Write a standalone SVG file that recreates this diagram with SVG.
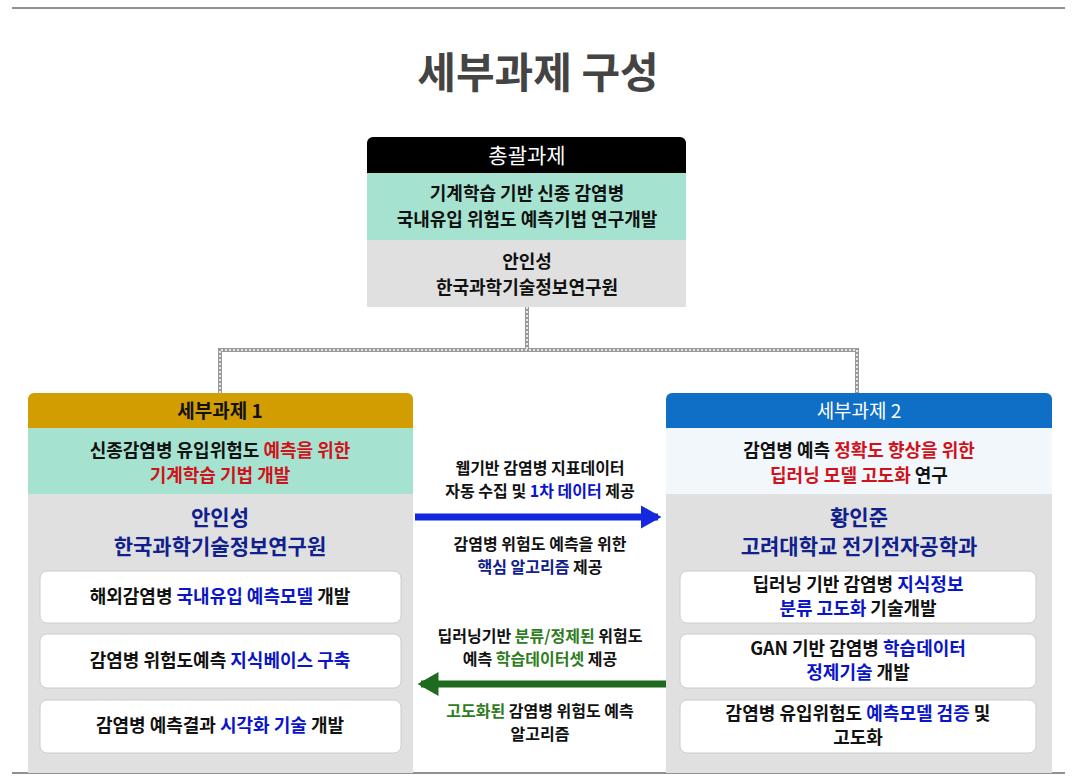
<svg xmlns="http://www.w3.org/2000/svg" width="1077" height="778" viewBox="0 0 1077 778">
<style>
text{font-family:"Noto Sans CJK KR","Noto Sans",sans-serif;font-weight:bold;text-anchor:middle;fill:#111}
.s{font-size:18px}.m{font-size:21px}.h{font-size:19px;fill:#111}.l{font-size:16px}
.r{fill:#d0121b}.b{fill:#0a14c8}.n{fill:#10208c}.g{fill:#2e7d22}
.wb{fill:#fff;stroke:#ccc;stroke-width:1}
</style>
<defs>
<marker id="ab" markerWidth="3" markerHeight="3.4" refX="2.5" refY="1.7" orient="auto"><path d="M0,0L3,1.7L0,3.4Z" fill="#1428e0"/></marker>
<marker id="ag" markerWidth="3" markerHeight="3.4" refX="2.5" refY="1.7" orient="auto"><path d="M0,0L3,1.7L0,3.4Z" fill="#1e6a1e"/></marker>
</defs>
<rect width="1077" height="778" fill="#fff"/>
<line x1="12" y1="8" x2="1065" y2="8" stroke="#222"/>
<line x1="12" y1="773" x2="1065" y2="773" stroke="#222"/>
<text x="538" y="88" style="font-size:42px;fill:#444">세부과제 구성</text>
<g id="connectors" fill="none">
<path d="M527,307V350M220,393V350H857V393" stroke="#999" stroke-width="4"/>
<path d="M527,307V350M220,393V350H857V393" stroke="#fff" stroke-width="1.5" stroke-dasharray="2 2"/>
<line x1="415" y1="517" x2="658" y2="517" stroke="#1428e0" stroke-width="7" marker-end="url(#ab)"/>
<line x1="666" y1="684" x2="421" y2="684" stroke="#1e6a1e" stroke-width="7" marker-end="url(#ag)"/>
</g>
<g id="top">
<path d="M367,173V143a6,6 0 0 1 6,-6H680a6,6 0 0 1 6,6V173Z" fill="#000"/>
<rect x="367" y="173" width="319" height="67" fill="#a5e3d0"/>
<rect x="367" y="240" width="319" height="67" fill="#e0e0e0"/>
<text x="527" y="163" class="m" style="fill:#fff;font-weight:normal">총괄과제</text>
<text x="527" y="200" class="s">기계학습 기반 신종 감염병</text>
<text x="527" y="226" class="s">국내유입 위험도 예측기법 연구개발</text>
<text x="527" y="268" class="s">안인성</text>
<text x="527" y="294" class="s">한국과학기술정보연구원</text>
</g>
<g id="task1">
<path d="M28,428V399a6,6 0 0 1 6,-6H407a6,6 0 0 1 6,6V428Z" fill="#d19d00"/>
<rect x="28" y="428" width="385" height="66" fill="#a5e3d0"/>
<rect x="28" y="494" width="385" height="279" fill="#e0e0e0"/>
<text x="220" y="418" class="h">세부과제 1</text>
<text x="220" y="457" class="s">신종감염병 유입위험도 <tspan class="r">예측을 위한</tspan></text>
<text x="220" y="482" class="s r">기계학습 기법 개발</text>
<text x="220" y="525" class="m n">안인성</text>
<text x="220" y="554" class="m n">한국과학기술정보연구원</text>
<rect x="40" y="571" width="361" height="52" rx="7" class="wb"/>
<text x="220" y="603" class="s">해외감염병 <tspan class="b">국내유입 예측모델</tspan> 개발</text>
<rect x="40" y="634" width="361" height="54" rx="7" class="wb"/>
<text x="220" y="667" class="s">감염병 위험도예측 <tspan class="b">지식베이스 구축</tspan></text>
<rect x="40" y="700" width="361" height="53" rx="7" class="wb"/>
<text x="220" y="732" class="s">감염병 예측결과 <tspan class="b">시각화 기술</tspan> 개발</text>
</g>
<g id="task2">
<path d="M666,428V399a6,6 0 0 1 6,-6H1046a6,6 0 0 1 6,6V428Z" fill="#0f6fc6"/>
<rect x="666" y="428" width="386" height="66" fill="#f2f7fc"/>
<rect x="666" y="494" width="386" height="279" fill="#e0e0e0"/>
<text x="859" y="418" class="h" style="fill:#fff;font-weight:normal">세부과제 2</text>
<text x="859" y="457" class="s">감염병 예측 <tspan class="r">정확도 향상을 위한</tspan></text>
<text x="859" y="482" class="s"><tspan class="r">딥러닝 모델 고도화</tspan> 연구</text>
<text x="859" y="525" class="m n">황인준</text>
<text x="859" y="554" class="m n">고려대학교 전기전자공학과</text>
<rect x="680" y="571" width="356" height="52" rx="7" class="wb"/>
<text x="858" y="591" class="s">딥러닝 기반 감염병 <tspan class="b">지식정보</tspan></text>
<text x="858" y="615" class="s"><tspan class="b">분류 고도화</tspan> 기술개발</text>
<rect x="680" y="634" width="356" height="54" rx="7" class="wb"/>
<text x="858" y="655" class="s">GAN 기반 감염병 <tspan class="b">학습데이터</tspan></text>
<text x="858" y="679" class="s"><tspan class="b">정제기술</tspan> 개발</text>
<rect x="680" y="700" width="356" height="53" rx="7" class="wb"/>
<text x="858" y="720" class="s">감염병 유입위험도 <tspan class="b">예측모델 검증</tspan> 및</text>
<text x="858" y="744" class="s">고도화</text>
</g>
<g id="labels">
<text x="540" y="474" class="l">웹기반 감염병 지표데이터</text>
<text x="540" y="497" class="l">자동 수집 및 <tspan class="b">1차 데이터</tspan> 제공</text>
<text x="540" y="550" class="l">감염병 위험도 예측을 위한</text>
<text x="540" y="573" class="l"><tspan class="n">핵심 알고리즘</tspan> 제공</text>
<text x="540" y="642" class="l">딥러닝기반 <tspan class="g">분류/정제된</tspan> 위험도</text>
<text x="540" y="665" class="l">예측 <tspan class="g">학습데이터셋</tspan> 제공</text>
<text x="540" y="717" class="l"><tspan class="g">고도화된</tspan> 감염병 위험도 예측</text>
<text x="540" y="740" class="l">알고리즘</text>
</g>
</svg>
